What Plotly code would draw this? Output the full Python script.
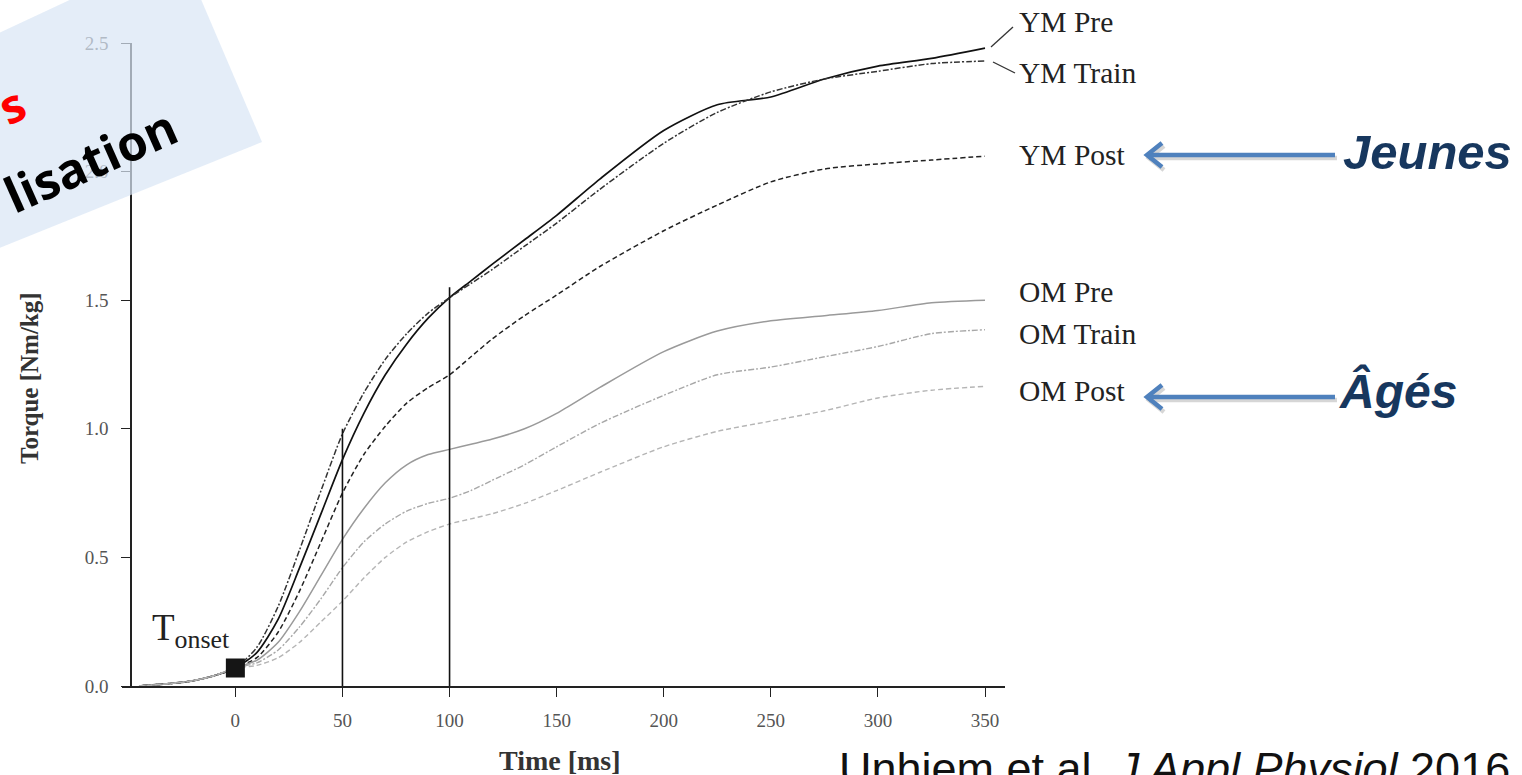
import plotly.graph_objects as go

# ---------------- data ----------------
time_ms = [-45, -30, -20, -10, 0, 10, 20, 30, 40, 50, 60, 70, 80, 90, 100, 110, 120,
           135, 150, 170, 200, 225, 250, 275, 300, 325, 350]

ym_pre = [0.0, 0.01, 0.02, 0.04, 0.07, 0.13, 0.26, 0.46, 0.67, 0.88, 1.06, 1.21, 1.33, 1.43,
          1.51, 1.575, 1.64, 1.735, 1.83, 1.97, 2.16, 2.26, 2.29, 2.36, 2.41, 2.44, 2.48]
ym_train = [0.0, 0.01, 0.02, 0.04, 0.07, 0.15, 0.31, 0.53, 0.76, 0.98, 1.14, 1.27, 1.37, 1.45,
            1.51, 1.565, 1.62, 1.71, 1.80, 1.93, 2.11, 2.23, 2.31, 2.36, 2.39, 2.42, 2.43]
ym_post = [0.0, 0.01, 0.02, 0.04, 0.07, 0.11, 0.21, 0.37, 0.56, 0.75, 0.90, 1.01, 1.10, 1.16,
           1.21, 1.28, 1.35, 1.44, 1.52, 1.63, 1.77, 1.87, 1.96, 2.01, 2.03, 2.045, 2.06]
om_pre = [0.0, 0.01, 0.02, 0.04, 0.07, 0.10, 0.17, 0.29, 0.43, 0.57, 0.69, 0.79, 0.86, 0.90,
          0.92, 0.94, 0.96, 1.00, 1.06, 1.16, 1.30, 1.38, 1.42, 1.44, 1.46, 1.49, 1.50]
om_train = [0.0, 0.01, 0.02, 0.04, 0.07, 0.09, 0.14, 0.23, 0.34, 0.46, 0.56, 0.63, 0.68, 0.71,
            0.73, 0.76, 0.80, 0.86, 0.93, 1.02, 1.13, 1.21, 1.24, 1.28, 1.32, 1.37, 1.385]
om_post = [0.0, 0.01, 0.02, 0.04, 0.07, 0.08, 0.11, 0.17, 0.25, 0.33, 0.42, 0.50, 0.56, 0.60,
           0.63, 0.65, 0.67, 0.71, 0.76, 0.83, 0.93, 0.99, 1.03, 1.07, 1.12, 1.15, 1.165]

series_names = ["YM Pre", "YM Train", "YM Post", "OM Pre", "OM Train", "OM Post"]
series_values = [ym_pre, ym_train, ym_post, om_pre, om_train, om_post]

marker_times = [50, 100]          # vertical reference lines
marker_heights = [1.0, 1.55]
onset_time = [0]
onset_torque = [0.07]

x_ticks = [0, 50, 100, 150, 200, 250, 300, 350]
y_ticks = [0.0, 0.5, 1.0, 1.5, 2.0, 2.5]

# ---------------- layout helpers ----------------
W, H = 1522, 775
L, R, T, B = 122, 1005, 43, 686  # plot area in pixels


def pp(px, py):
    return (px - L) / (R - L), (B - py) / (B - T)


styles = [
    dict(color="#111111", width=1.7, dash="solid"),
    dict(color="#333333", width=1.5, dash="6px,2px,2px,2px"),
    dict(color="#222222", width=1.5, dash="5px,3px"),
    dict(color="#9a9a9a", width=1.5, dash="solid"),
    dict(color="#a8a8a8", width=1.4, dash="6px,2px,2px,2px"),
    dict(color="#b5b5b5", width=1.4, dash="5px,3px"),
]

fig = go.Figure()

for name, vals, st in zip(series_names, series_values, styles):
    fig.add_trace(go.Scatter(x=time_ms, y=vals, mode="lines", name=name,
                             line=dict(shape="spline", smoothing=0.7, **st)))

for t, h in zip(marker_times, marker_heights):
    fig.add_trace(go.Scatter(x=[t, t], y=[0, h], mode="lines",
                             line=dict(color="#111111", width=1.6), showlegend=False))

fig.add_trace(go.Scatter(x=onset_time, y=onset_torque, mode="markers",
                         marker=dict(symbol="square", size=19, color="#151515"),
                         showlegend=False))

serif = "Liberation Serif"
x_lo = -45 - (139 - L) / ((985 - 235) / 350)
x_hi = 350 + (R - 985) / ((985 - 235) / 350)

fig.update_layout(
    width=W, height=H,
    margin=dict(l=L, r=W - R, t=T, b=H - B),
    plot_bgcolor="white", paper_bgcolor="white",
    showlegend=False,
    xaxis=dict(range=[x_lo, x_hi], tickvals=x_ticks, ticks="outside", ticklen=9,
               tickcolor="#222", showline=True, linecolor="#222", linewidth=1.5,
               showgrid=False, zeroline=False, ticklabelstandoff=7,
               tickfont=dict(family=serif, size=19, color="#555")),
    yaxis=dict(range=[0, 2.5], tickvals=y_ticks, tickformat=".1f", ticks="outside",
               ticklen=9, tickcolor="#222", showline=True, linecolor="#222", linewidth=1.5,
               showgrid=False, zeroline=False, anchor="free", position=9 / (R - L),
               ticklabelstandoff=9,
               tickfont=dict(family=serif, size=19, color="#555")),
)

ann = []


def add_text(text, px, py, size, color, family, xanchor="center", yanchor="middle", angle=0):
    x, y = pp(px, py)
    ann.append(dict(text=text, x=x, y=y, xref="paper", yref="paper", xanchor=xanchor,
                    yanchor=yanchor, showarrow=False, textangle=angle,
                    font=dict(family=family, size=size, color=color)))


# axis titles
add_text("<b>Time [ms]</b>", 560, 760, 28, "#333", serif)
add_text("<b>Torque [Nm/kg]</b>", 30, 378, 25, "#333", serif, angle=-90)

# T onset
ann.append(dict(text="T<sub>onset</sub>", x=-40, y=0.215, xref="x", yref="y",
                xanchor="left", yanchor="middle", showarrow=False,
                font=dict(family=serif, size=37, color="#222")))

# series labels on the right
label_pos = [22, 73, 155, 292, 334, 391]
for name, py in zip(series_names, label_pos):
    add_text(name, 1017, py, 29.5, "#222", serif, xanchor="left")

add_text("<b><i>Jeunes</i></b>", 1341, 152, 49, "#17375e", "Liberation Sans", xanchor="left")
add_text("<b><i>Âgés</i></b>", 1337, 391, 48, "#17375e", "Liberation Sans", xanchor="left")

# citation (clipped at bottom like the reference)
add_text("Unhjem et al. <i>J Appl Physiol</i> 2016", 837, 741, 45, "#111",
         "Liberation Sans", xanchor="left", yanchor="top")

# rotated banner text (top-left)
add_text("<b>lisation</b>", 90, 160, 49, "#000", "Open Sans", angle=-24)
add_text("<b>s</b>", 11, 105, 47, "#ff0000", "Open Sans", angle=-24)

fig.update_layout(annotations=ann)


def seg_path(points):
    return "M " + " L ".join(f"{pp(a, b)[0]:.5f},{pp(a, b)[1]:.5f}" for a, b in points)


# shapes: banner, leader lines, blue arrows
poly = [(-3, 34), (76, -3), (200, -3), (262, 142), (-3, 249)]
shapes = [dict(type="path", path=seg_path(poly) + " Z", xref="paper", yref="paper",
               layer="above", fillcolor="#d9e5f5", opacity=0.7, line=dict(width=0))]
for pts in [[(991, 47), (1013, 27)], [(993, 62), (1015, 73)]]:
    shapes.append(dict(type="path", path=seg_path(pts), xref="paper", yref="paper",
                       line=dict(color="#333", width=1.3)))

for py in [155, 397]:
    for dx, dy, col in [(2, 3, "rgba(0,0,0,0.16)"), (0, 0, "#4f81bd")]:
        shaft = [(1147 + dx, py + dy), (1335 + dx, py + dy)]
        head = [(1162 + dx, py - 12 + dy), (1147 + dx, py + dy), (1162 + dx, py + 12 + dy)]
        for pts in (shaft, head):
            shapes.append(dict(type="path", path=seg_path(pts), xref="paper", yref="paper",
                               line=dict(color=col, width=4.5)))
fig.update_layout(shapes=shapes)

fig.write_html("out.html", config={"displayModeBar": False},
               post_script="document.body.style.margin='0px';")
